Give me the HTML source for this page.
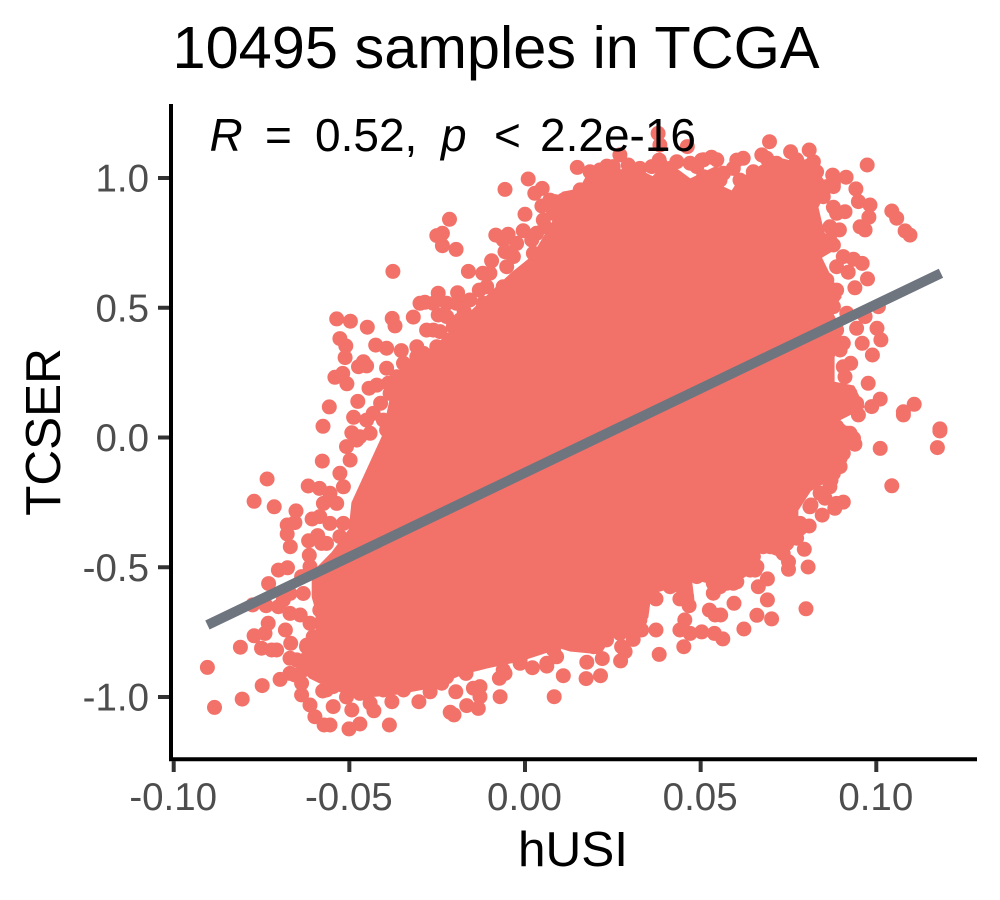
<!DOCTYPE html>
<html lang="en">
<head>
<meta charset="utf-8">
<title>10495 samples in TCGA</title>
<style>
html,body{margin:0;padding:0;background:#fff;}
svg{display:block;font-family:"Liberation Sans",Arial,sans-serif;}
</style>
</head>
<body>
<svg id="chart" xmlns="http://www.w3.org/2000/svg" width="1000" height="900" viewBox="0 0 1000 900">
  <rect x="0" y="0" width="1000" height="900" fill="#ffffff"/>
  <g id="cloud"></g>
  <g id="fit"></g>
  <g id="axes"></g>
  <text x="172.5" y="68" font-size="59.5" fill="#000">10495 samples in TCGA</text>
  <text y="151" font-size="46" fill="#000"><tspan x="209.5" font-style="italic">R</tspan><tspan x="265">=</tspan><tspan x="315">0.52,</tspan><tspan x="441" font-style="italic">p</tspan><tspan x="494">&lt;</tspan><tspan x="540">2.2e-16</tspan></text>
  <text x="573" y="866" font-size="49.5" text-anchor="middle" fill="#000">hUSI</text>
  <text transform="translate(60,432) rotate(-90)" font-size="49.5" text-anchor="middle" fill="#000">TCSER</text>
</svg>
<script>
const xTicks = [-0.10, -0.05, 0.00, 0.05, 0.10];
const xTickLabels = ["-0.10", "-0.05", "0.00", "0.05", "0.10"];
const yTicks = [-1.0, -0.5, 0.0, 0.5, 1.0];
const yTickLabels = ["-1.0", "-0.5", "0.0", "0.5", "1.0"];

// Regression line end points (hUSI, TCSER)
const fitX = [-0.0904, 0.1184];
const fitY = [-0.7225, 0.633];

// Outline of the saturated centre of the cloud (hUSI, TCSER)
const coreX = [-0.0404,-0.0376,-0.0347,-0.0250,-0.0185,-0.0108,-0.0034,0.0023,0.0080,0.0108,0.0157,0.0185,0.0319,0.0364,0.0404,0.0470,0.0547,0.0535,0.0590,0.0612,0.0689,0.0734,0.0820,0.0860,0.0831,0.0848,0.0888,0.0840,0.0868,0.0897,0.0868,0.0897,0.0877,0.0877,0.0934,0.0962,0.0888,0.0945,0.0925,0.0905,0.0877,0.0811,0.0774,0.0774,0.0734,0.0660,0.0649,0.0575,0.0470,0.0478,0.0413,0.0356,0.0347,0.0299,0.0242,0.0213,0.0128,0.0100,-0.0014,-0.0108,-0.0176,-0.0270,-0.0364,-0.0478,-0.0555,-0.0612,-0.0649,-0.0592,-0.0592,-0.0603,-0.0603,-0.0547,-0.0498,-0.0490];
const coreY = [0.002,0.180,0.275,0.355,0.440,0.541,0.634,0.696,0.827,0.942,0.954,1.023,1.031,1.000,1.058,0.992,1.042,0.980,0.945,0.992,1.058,1.069,1.042,0.965,0.888,0.788,0.734,0.695,0.618,0.541,0.491,0.414,0.310,0.210,0.195,0.118,0.067,0.002,-0.021,-0.075,-0.152,-0.202,-0.279,-0.356,-0.460,-0.422,-0.511,-0.576,-0.538,-0.626,-0.576,-0.599,-0.692,-0.754,-0.769,-0.830,-0.819,-0.807,-0.857,-0.884,-0.907,-0.961,-0.985,-1.000,-0.961,-0.923,-0.857,-0.780,-0.665,-0.615,-0.522,-0.445,-0.356,-0.252];

// Individually visible samples around the cloud (hUSI, TCSER)
const pointX = [
0.0009,-0.0057,-0.0215,-0.0251,-0.0235,-0.0235,-0.0196,-0.0376,0.0049,0.0000,-0.0536,-0.0497,-0.0449,-0.0378,-0.0370,-0.0318,-0.0527,-0.0510,-0.0512,-0.0541,-0.0519,-0.0507,-0.0557,-0.0575,-0.0474,-0.0451,-0.0460,-0.0425,-0.0394,-0.0352,-0.0308,-0.0394,-0.0389,-0.0444,-0.0422,-0.0476,-0.0411,-0.0488,-0.0493,-0.0470,-0.0285,-0.0247,-0.0192,-0.0173,-0.0247,-0.0280,-0.0242,-0.0171,-0.0161,-0.0120,-0.0095,-0.0130,-0.0083,-0.0048,-0.0005,-0.0057,0.0028,0.0048,0.0085,0.0057,-0.0024,
0.0149,0.0233,0.0270,0.0379,0.0384,0.0382,0.0462,0.0432,0.0696,0.0756,0.0809,0.0674,0.0621,0.0603,0.0531,0.0503,0.0470,0.0974,0.0876,0.0914,0.0821,0.0942,0.0878,0.0949,0.0982,0.0878,0.0911,0.0979,0.1044,0.1058,0.1082,0.1096,0.0895,0.0954,0.0968,0.0878,0.0906,0.0935,0.0960,0.0920,0.0975,0.0939,0.0887,0.1006,0.0968,0.0916,0.0944,0.1002,0.1013,0.0960,0.0989,0.0906,0.0927,0.0911,0.0977,0.1011,0.0987,0.0949,0.1108,0.1077,0.1077,0.1181,0.0916,
-0.0577,-0.0734,-0.0771,-0.0714,-0.0652,-0.0617,-0.0585,-0.0655,-0.0677,-0.0677,-0.0668,-0.0606,-0.0616,-0.0590,-0.0579,-0.0614,-0.0702,-0.0676,-0.0730,-0.0775,-0.0737,-0.0702,-0.0731,-0.0740,-0.0771,-0.0682,-0.0810,-0.0750,-0.0721,-0.0707,-0.0667,-0.0621,-0.0669,-0.0904,-0.0697,-0.0748,-0.0805,-0.0884,-0.0655,-0.0636,-0.0636,-0.0612,-0.0598,-0.0572,-0.0555,-0.0546,-0.0576,-0.0501,-0.0470,-0.0493,-0.0430,-0.0386,-0.0441,-0.0379,-0.0302,-0.0346,-0.0270,-0.0237,-0.0197,-0.0213,-0.0202,-0.0166,-0.0133,-0.0147,-0.0128,-0.0128,-0.0071,-0.0168,-0.0073,-0.0057,0.0021,0.0062,0.0083,0.0109,-0.0137,-0.0014,0.0081,
0.0174,0.0215,0.0176,0.0220,0.0272,0.0285,0.0275,0.0308,0.0382,0.0373,0.0332,0.0452,0.0441,0.0455,0.0470,0.0503,0.0539,0.0563,0.0623,0.0660,0.0702,0.0690,0.0595,0.0525,0.0541,0.0557,0.0467,0.0441,0.0373,0.0536,0.0664,0.0690,0.0800,0.0806,0.0750,0.0750,0.0795,0.0773,0.0809,0.0783,0.0846,0.0814,0.0906,0.0882,0.0854,0.0871,0.0878,0.0897,0.0939,0.1011,0.1174,0.1181,0.1044,0.0678,0.0650,0.0655,0.0593,0.0555,0.0455,0.0716,
-0.0062,-0.0024,0.0019,0.0033,0.0024,-0.0033,-0.0052,-0.0062,-0.0100,-0.0109,-0.0119,-0.0157,-0.0195,-0.0223,-0.0261,-0.0299,-0.0223,-0.0185,-0.0128,-0.0100,-0.0071,-0.0024,-0.0261,-0.0213,-0.0251,-0.0289,-0.0346,-0.0365,-0.0327,-0.0384,-0.0356,-0.0403,-0.0432,-0.0451,-0.0394,-0.0346,-0.0441,-0.0308,-0.0270,-0.0204,0.0052,0.0081,0.0071,0.0109,
0.0185,0.0213,0.0251,0.0294,0.0327,0.0361,0.0384,0.0413,0.0489,0.0508,0.0546,0.0565,0.0508,0.0555,0.0593,0.0612,0.0650,0.0688,0.0716,0.0773,0.0802,0.0830,0.0859,0.0878,0.0849,0.0887,0.0868,0.0868,0.0887,0.0859,0.0878,0.0887,0.0897,0.0906,0.0859,0.0887,0.0925,0.0944,0.0906,0.0878,0.0887,0.0925,0.0157,0.0299,
-0.0508,-0.0479,-0.0527,-0.0498,-0.0517,-0.0555,-0.0536,-0.0574,-0.0584,-0.0555,-0.0517,-0.0527,-0.0565,-0.0546,-0.0612,-0.0636,-0.0669,-0.0688,-0.0631,-0.0669,-0.0640,-0.0612,-0.0584,-0.0565,-0.0603,-0.0622,-0.0593,-0.0650,-0.0669,-0.0631,-0.0584,-0.0565,-0.0546,-0.0508,-0.0470,-0.0403,-0.0346,-0.0318,-0.0223,-0.0176,-0.0138,-0.0062,-0.0014,0.0062,0.0090,
0.0166,0.0195,0.0232,0.0270,0.0308,0.0327,0.0332,0.0356,0.0299,0.0413,0.0451,0.0460,0.0489,0.0536,0.0574,0.0603,0.0641,0.0660,0.0650,0.0698,0.0745,0.0764,0.0783,0.0811,0.0840,0.0878,0.0897,0.0906,0.0935,0.0868,0.0887,0.0735
];
const pointY = [
0.996,0.956,0.841,0.778,0.787,0.739,0.725,0.640,0.960,0.860,0.457,0.448,0.425,0.459,0.430,0.464,0.381,0.353,0.308,0.232,0.247,0.207,0.118,0.043,0.273,0.276,0.292,0.356,0.344,0.335,0.311,0.267,0.209,0.190,0.202,0.139,0.132,0.078,0.018,0.003,0.521,0.556,0.558,0.485,0.472,0.414,0.408,0.414,0.640,0.633,0.681,0.568,0.780,0.783,0.797,0.716,0.941,0.892,0.909,0.812,0.607,
1.041,1.046,1.089,1.172,1.127,1.069,1.121,1.063,1.140,1.101,1.108,1.089,1.076,1.069,1.080,1.069,1.057,1.050,1.011,1.003,1.063,0.958,0.967,0.909,0.896,0.887,0.870,0.849,0.873,0.845,0.796,0.780,0.800,0.812,0.800,0.742,0.697,0.687,0.671,0.637,0.611,0.577,0.568,0.504,0.466,0.479,0.421,0.421,0.376,0.363,0.318,0.363,0.286,0.234,0.209,0.148,0.119,0.087,0.128,0.099,0.087,0.033,0.016,
-0.091,-0.160,-0.246,-0.267,-0.283,-0.187,-0.196,-0.328,-0.337,-0.372,-0.421,-0.314,-0.398,-0.378,-0.408,-0.454,-0.511,-0.502,-0.563,-0.645,-0.648,-0.652,-0.716,-0.755,-0.764,-0.742,-0.808,-0.812,-0.819,-0.819,-0.793,-0.800,-0.851,-0.886,-0.932,-0.956,-1.008,-1.040,-0.915,-0.947,-0.992,-1.031,-1.076,-1.108,-1.108,-1.037,-0.977,-1.123,-1.104,-1.050,-1.053,-1.108,-1.024,-1.018,-1.018,-0.973,-0.980,-0.947,-0.980,-1.059,-1.069,-1.033,-1.044,-0.966,-0.960,-0.999,-0.999,-0.909,-0.928,-0.909,-0.887,-0.881,-0.999,-0.918,-0.870,-0.857,-0.819,
-0.929,-0.918,-0.866,-0.852,-0.861,-0.825,-0.806,-0.778,-0.836,-0.742,-0.742,-0.806,-0.742,-0.703,-0.755,-0.749,-0.755,-0.776,-0.738,-0.685,-0.699,-0.626,-0.639,-0.665,-0.684,-0.684,-0.648,-0.622,-0.622,-0.600,-0.575,-0.545,-0.660,-0.499,-0.508,-0.479,-0.431,-0.388,-0.341,-0.350,-0.299,-0.260,-0.249,-0.273,-0.234,-0.164,-0.128,-0.080,-0.026,-0.042,-0.039,0.025,-0.186,-0.421,-0.459,-0.511,-0.562,-0.575,-0.588,-0.402,
0.761,0.748,0.761,0.787,0.710,0.697,0.658,0.581,0.633,0.581,0.517,0.530,0.517,0.517,0.517,0.517,0.466,0.453,0.466,0.466,0.478,0.530,0.414,0.376,0.350,0.324,0.286,0.234,0.273,0.170,0.132,0.067,0.093,0.067,0.029,0.016,0.016,0.350,0.299,0.427,0.838,0.864,0.915,0.915,
1.024,1.031,1.044,1.050,1.037,1.044,1.057,1.037,1.044,1.070,1.070,1.018,1.005,0.992,1.037,0.992,1.024,1.076,1.057,1.070,1.044,1.024,0.967,0.980,0.928,0.864,0.812,0.761,0.658,0.607,0.504,0.414,0.337,0.273,0.196,0.170,0.170,0.132,0.106,0.080,0.042,0.016,0.954,1.024,
-0.035,-0.010,-0.138,-0.087,-0.190,-0.215,-0.254,-0.254,-0.305,-0.331,-0.331,-0.382,-0.408,-0.485,-0.498,-0.536,-0.601,-0.626,-0.601,-0.678,-0.684,-0.716,-0.665,-0.652,-0.768,-0.806,-0.819,-0.857,-0.909,-0.896,-0.909,-0.973,-0.960,-1.000,-0.986,-0.973,-0.935,-0.947,-0.922,-0.896,-0.870,-0.896,-0.870,-0.870,-0.845,
-0.793,-0.806,-0.780,-0.755,-0.729,-0.703,-0.665,-0.601,-0.691,-0.575,-0.575,-0.613,-0.536,-0.562,-0.562,-0.556,-0.511,-0.498,-0.459,-0.421,-0.408,-0.369,-0.331,-0.267,-0.215,-0.138,-0.112,-0.061,-0.003,-0.190,-0.254,-0.447
];

const SVG_NS = "http://www.w3.org/2000/svg";
const POINT_COLOR = "#F2726A";
const scaleX = v => 525 + v * 3513;
const scaleY = v => 437.5 - v * 259.5;

function make(tag, attrs, parent) {
  const el = document.createElementNS(SVG_NS, tag);
  for (const k in attrs) el.setAttribute(k, attrs[k]);
  parent.appendChild(el);
  return el;
}

const cloud = document.getElementById("cloud");
const corePts = coreX.map((v, i) => scaleX(v).toFixed(1) + "," + scaleY(coreY[i]).toFixed(1)).join(" ");
const core = make("polygon", { points: corePts, fill: POINT_COLOR, stroke: POINT_COLOR, "stroke-width": 3, "stroke-linejoin": "round" }, cloud);



pointX.forEach((v, i) => {
  const dot = make("circle", { cx: scaleX(v).toFixed(1), cy: scaleY(pointY[i]).toFixed(1), r: 7.5, fill: POINT_COLOR }, cloud);
  
  
});

const fitLayer = document.getElementById("fit");
const fitLine = make("line", { x1: scaleX(fitX[0]), y1: scaleY(fitY[0]), x2: scaleX(fitX[1]), y2: scaleY(fitY[1]), stroke: "#6E757F", "stroke-width": 10 }, fitLayer);



const axes = document.getElementById("axes");
const yAxis = make("line", { x1: 171, y1: 104, x2: 171, y2: 761, stroke: "#000", "stroke-width": 4 }, axes);


const xAxis = make("line", { x1: 169, y1: 759.3, x2: 977, y2: 759.3, stroke: "#000", "stroke-width": 4 }, axes);



xTicks.forEach((v, i) => {
  const tick = make("line", { x1: scaleX(v), y1: 761, x2: scaleX(v), y2: 772, stroke: "#333", "stroke-width": 4 }, axes);
  
  
  const label = make("text", { x: scaleX(v) - 0.5, y: 810, "font-size": 38.5, "text-anchor": "middle", fill: "#4D4D4D" }, axes);
  
  
  label.textContent = xTickLabels[i];
});

yTicks.forEach((v, i) => {
  const tick = make("line", { x1: 158, y1: scaleY(v), x2: 169, y2: scaleY(v), stroke: "#333", "stroke-width": 4 }, axes);
  
  
  const label = make("text", { x: 149, y: scaleY(v) + 13.5, "font-size": 38.5, "text-anchor": "end", fill: "#4D4D4D" }, axes);
  
  
  label.textContent = yTickLabels[i];
});
</script>
</body>
</html>
